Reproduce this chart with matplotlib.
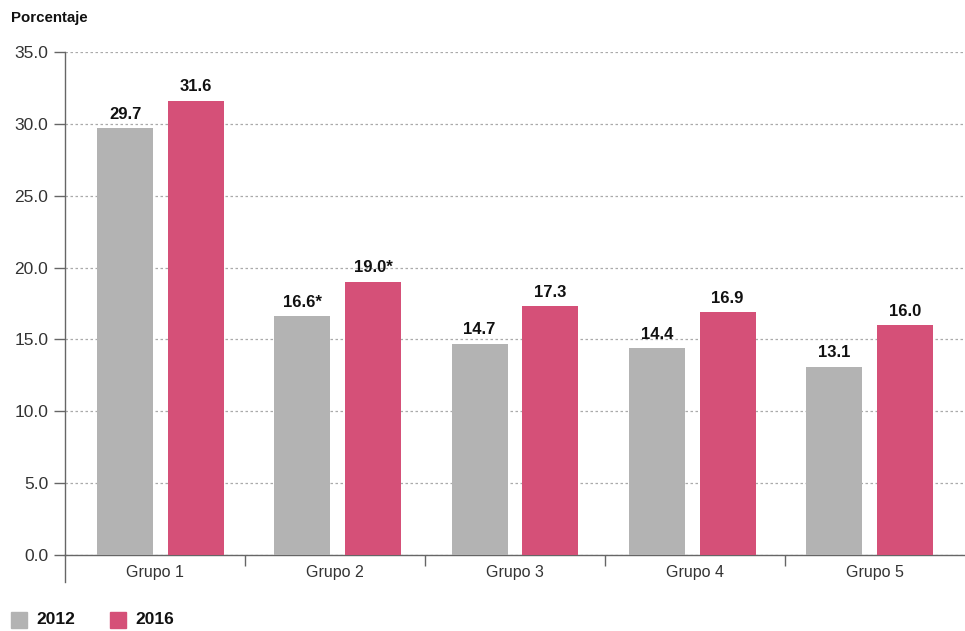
import matplotlib.pyplot as plt
import numpy as np
from matplotlib.patches import Rectangle

grupos = ["Grupo 1", "Grupo 2", "Grupo 3", "Grupo 4", "Grupo 5"]
valores_2012 = [29.7, 16.6, 14.7, 14.4, 13.1]
valores_2016 = [31.6, 19.0, 17.3, 16.9, 16.0]
etiquetas_2012 = ["29.7", "16.6*", "14.7", "14.4", "13.1"]
etiquetas_2016 = ["31.6", "19.0*", "17.3", "16.9", "16.0"]
yticks = [0, 5, 10, 15, 20, 25, 30, 35]

GRIS = "#b3b3b3"
ROSA = "#d55078"
EJE = "#666666"

plt.rcParams["font.family"] = ["Liberation Sans", "DejaVu Sans"]

fig = plt.figure(figsize=(9.65, 6.31), dpi=100)
ax = fig.add_axes([65 / 965, 76 / 631, 900 / 965, 503 / 631])

x = np.arange(len(grupos))
w = 0.316
off = 0.2
b1 = ax.bar(x - off, valores_2012, w, color=GRIS, zorder=3)
b2 = ax.bar(x + off, valores_2016, w, color=ROSA, zorder=3)

for rect, lab in zip(b1, etiquetas_2012):
    ax.text(rect.get_x() + rect.get_width() / 2, rect.get_height() + 0.45, lab,
            ha="center", va="bottom", fontsize=12, fontweight="bold", color="#111111")
for rect, lab in zip(b2, etiquetas_2016):
    ax.text(rect.get_x() + rect.get_width() / 2, rect.get_height() + 0.45, lab,
            ha="center", va="bottom", fontsize=12, fontweight="bold", color="#111111")

x0, x1 = -0.54, len(grupos) - 0.46
ax.set_xlim(x0, x1)
ax.set_ylim(0, 35)
ax.set_yticks(yticks)
ax.set_yticklabels(["%.1f" % v for v in yticks], fontsize=12.5, color="#333333")

# axis split in equal parts, one per group; labels centred in each part
paso = (x1 - x0) / len(grupos)
ax.set_xticks([x0 + paso * (k + 0.5) for k in range(len(grupos))])
ax.set_xticklabels(grupos, fontsize=11.5, color="#333333")
ax.tick_params(axis="x", length=0, pad=7)
ax.set_xticks([x0 + paso * k for k in range(1, len(grupos))], minor=True)
ax.tick_params(axis="x", which="minor", length=8, color=EJE, width=1, direction="out")
ax.tick_params(axis="y", length=8, color=EJE, width=1, pad=4)

ax.grid(axis="y", linestyle=(0, (2, 2)), color="#aaaaaa", linewidth=0.9, zorder=0)
for s in ["top", "right"]:
    ax.spines[s].set_visible(False)
ax.spines["left"].set_color(EJE)
ax.spines["bottom"].set_color(EJE)
ax.spines["left"].set_linewidth(1)
ax.spines["bottom"].set_linewidth(1)

# left axis goes down below the category labels
ax.plot([0, 0], [0, -27 / 503], transform=ax.transAxes, color=EJE, lw=1, clip_on=False)

fig.text(11 / 965, 1 - 18 / 631, "Porcentaje", fontsize=10.8, fontweight="bold",
         ha="left", va="center", color="#111111")

# legend
for xs, lab, col in [(11, "2012", GRIS), (110, "2016", ROSA)]:
    fig.patches.append(Rectangle((xs / 965, 3 / 631), 16 / 965, 16 / 631,
                                 transform=fig.transFigure, color=col))
    fig.text((xs + 25) / 965, 11 / 631, lab, fontsize=12.5, fontweight="bold",
             ha="left", va="center", color="#111111")

fig.savefig("out.png", dpi=100)
